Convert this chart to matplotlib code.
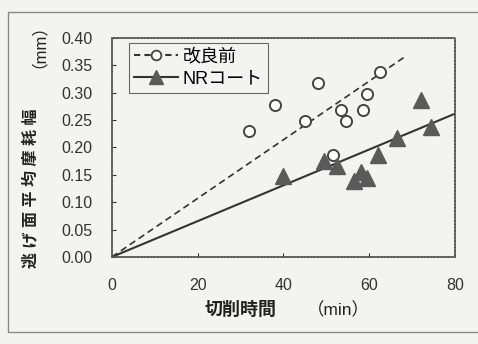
import matplotlib
matplotlib.use("Agg")
import matplotlib.pyplot as plt
from matplotlib.lines import Line2D
from matplotlib.patches import Rectangle
import numpy as np

plt.rcParams['font.family'] = ['Liberation Sans', 'Noto Sans CJK JP', 'DejaVu Sans']

# before improvement (circles)
before_time = [32, 38, 45, 48, 51.5, 53.5, 54.5, 58.5, 59.5, 62.5]
before_wear = [0.230, 0.278, 0.248, 0.318, 0.186, 0.268, 0.248, 0.268, 0.298, 0.338]
# NR coat (triangles)
nr_time = [40, 49.5, 52.5, 56.5, 58, 59.5, 62, 66.5, 72, 74.5]
nr_wear = [0.147, 0.175, 0.166, 0.138, 0.156, 0.145, 0.187, 0.217, 0.287, 0.237]

# trend lines through origin: slope and end time
before_slope, before_end = 0.00535, 68
nr_slope, nr_end = 0.00327, 80

bg = '#f3f3f1'
W, H = 478, 344
fig = plt.figure(figsize=(4.78, 3.44), dpi=100, facecolor=bg)
ax = fig.add_axes([0.234, 0.253, 0.718, 0.637])
ax.set_facecolor(bg)

# outer frame of the scanned figure
fig.patches.append(Rectangle((8 / W, 12 / H), 1.2, 320 / H, transform=fig.transFigure,
                             fill=False, edgecolor='#888888', linewidth=1.0))

xb = np.array([0, before_end])
ax.plot(xb, before_slope * xb, color='#333333', linestyle=(0, (4, 2.5)), linewidth=1.2)
xn = np.array([0, nr_end])
ax.plot(xn, nr_slope * xn, color='#333333', linestyle='-', linewidth=1.5)

ax.plot(before_time, before_wear, 'o', markersize=8, markerfacecolor='white',
        markeredgecolor='#444444', markeredgewidth=1.4, linestyle='none')
ax.plot(nr_time, nr_wear, '^', markersize=11, markerfacecolor='#5a5a5a',
        markeredgecolor='#5a5a5a', linestyle='none')

ax.set_xlim(0, 80)
ax.set_ylim(0, 0.40)
ax.set_xticks([0, 20, 40, 60, 80])
ax.set_yticks(np.arange(0, 0.401, 0.05))
ax.set_yticklabels(['%.2f' % v for v in np.arange(0, 0.401, 0.05)])
ax.tick_params(direction='in', length=3, labelsize=11.5, colors='#333333')
ax.tick_params(axis='x', pad=15)
ax.tick_params(axis='y', pad=14)
for s in ax.spines.values():
    s.set_linestyle((0, (1.2, 0.8)))
    s.set_color('#555555')
    s.set_linewidth(1.2)

# axis titles (kanji part bold, unit part regular)
fig.text(241 / W, 1 - 310 / H, '切削時間', fontsize=13, fontweight='bold',
         color='#222222', ha='center', va='center')
fig.text(338 / W, 1 - 310 / H, '（min）', fontsize=12.5, color='#222222',
         ha='center', va='center')
fig.text(30 / W, 1 - 188 / H, '逃 げ 面 平 均 摩 耗 幅', fontsize=11.5, fontweight='bold',
         color='#222222', ha='center', va='center', rotation=90)
fig.text(30 / W, 1 - 38 / H, '（mm）', fontsize=12, color='#222222',
         ha='center', va='center', rotation=90)

handles = [
    Line2D([], [], color='#333333', linestyle=(0, (3, 2)), marker='o', markersize=7,
           markerfacecolor='white', markeredgecolor='#444444', markeredgewidth=1.3),
    Line2D([], [], color='#333333', linestyle='-', marker='^', markersize=10,
           markerfacecolor='#5a5a5a', markeredgecolor='#5a5a5a', linewidth=1.5),
]
leg = ax.legend(handles, ['改良前', 'NRコート'], loc='upper left',
                bbox_to_anchor=(0.05, 0.977), fontsize=13,
                frameon=True, fancybox=False, edgecolor='#666666', facecolor=bg,
                framealpha=1, borderaxespad=0, handlelength=2.4, handletextpad=0.25,
                labelspacing=0.3, borderpad=0.3)
leg.get_frame().set_linewidth(0.8)

fig.savefig('out.png', dpi=100, facecolor=bg)
